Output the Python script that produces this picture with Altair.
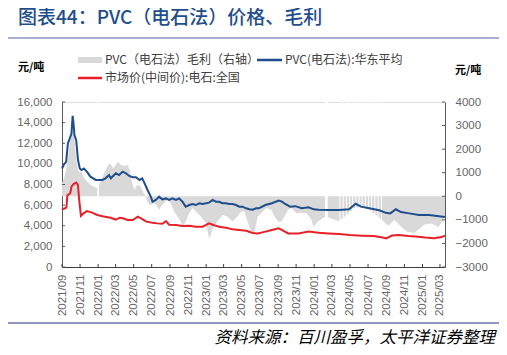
import altair as alt
import pandas as pd

W, H = 383, 165

# PVC (carbide) East China average price, yuan/t (left axis)
blue_dates = ["2021-09-01", "2021-09-08", "2021-09-15", "2021-09-21", "2021-09-27", "2021-10-03",
              "2021-10-07", "2021-10-10", "2021-10-13", "2021-10-19", "2021-10-25", "2021-10-31",
              "2021-11-06", "2021-11-14", "2021-11-24", "2021-12-06", "2021-12-24", "2022-01-15",
              "2022-01-26", "2022-02-07", "2022-02-13", "2022-02-24", "2022-03-02", "2022-03-13",
              "2022-03-25", "2022-04-05", "2022-04-16", "2022-04-28", "2022-05-09", "2022-05-21",
              "2022-05-30", "2022-06-06", "2022-06-17", "2022-06-28", "2022-07-04", "2022-07-15",
              "2022-07-26", "2022-08-06", "2022-08-18", "2022-08-29", "2022-09-09", "2022-09-21",
              "2022-10-02", "2022-10-13", "2022-10-24", "2022-11-05", "2022-11-16", "2022-11-27",
              "2022-12-09", "2022-12-20", "2023-01-11", "2023-01-23", "2023-02-03", "2023-02-14",
              "2023-02-25", "2023-03-09", "2023-03-20", "2023-03-31", "2023-04-12", "2023-04-23",
              "2023-05-04", "2023-05-16", "2023-05-27", "2023-06-07", "2023-06-19", "2023-06-28",
              "2023-07-20", "2023-08-11", "2023-09-03", "2023-09-14", "2023-09-25", "2023-10-12",
              "2023-10-29", "2023-11-20", "2023-12-13", "2023-12-30", "2024-01-16", "2024-02-19",
              "2024-03-25", "2024-04-28", "2024-05-20", "2024-06-07", "2024-07-05", "2024-08-08",
              "2024-08-30", "2024-09-14", "2024-10-03", "2024-10-20", "2024-11-17", "2024-12-20",
              "2025-01-23", "2025-02-26", "2025-03-18"]
blue_vals = [9550, 9950, 10200, 12000, 12450, 12950,
             14650, 13900, 12800, 12300, 10400, 9550,
             9400, 9550, 9250, 8760, 8440, 8440,
             8600, 8920, 8600, 8920, 9090, 8920,
             9250, 9090, 8830, 8700, 8700, 8440,
             8600, 8180, 7470, 6820, 6330, 6500,
             6820, 6560, 6650, 6500, 6650, 6500,
             6650, 6330, 5850, 6010, 6110, 6010,
             6180, 6110, 6240, 6500, 6330, 6330,
             6180, 6180, 6110, 6110, 6010, 5850,
             5850, 5690, 5600, 5560, 5690, 5690,
             6010, 6180, 6440, 6340, 6110, 5850,
             5900, 5690, 5790, 5590, 5560, 5530,
             5530, 5600, 6130, 5850, 5690, 5500,
             5250, 5200, 5600, 5330, 5200, 5040,
             5040, 4920, 4850]

# Calcium carbide national market price (mid), yuan/t (left axis)
red_dates = ["2021-09-01", "2021-09-12", "2021-09-16", "2021-09-19", "2021-09-29", "2021-10-03",
             "2021-10-10", "2021-10-19", "2021-10-25", "2021-10-29", "2021-11-04", "2021-11-13",
             "2021-11-24", "2021-12-12", "2021-12-29", "2022-01-20", "2022-02-12", "2022-03-02",
             "2022-03-15", "2022-03-25", "2022-04-11", "2022-04-28", "2022-05-15", "2022-05-26",
             "2022-06-13", "2022-07-04", "2022-07-20", "2022-08-06", "2022-08-18", "2022-08-29",
             "2022-09-21", "2022-10-13", "2022-11-05", "2022-11-27", "2022-12-20", "2023-01-11",
             "2023-01-28", "2023-02-14", "2023-03-09", "2023-03-31", "2023-04-23", "2023-05-16",
             "2023-06-07", "2023-06-25", "2023-07-20", "2023-08-11", "2023-09-03", "2023-09-18",
             "2023-10-05", "2023-11-09", "2023-12-13", "2024-01-16", "2024-02-19", "2024-03-25",
             "2024-05-01", "2024-06-08", "2024-07-20", "2024-08-15", "2024-08-31", "2024-09-20",
             "2024-10-13", "2024-11-15", "2024-12-18", "2025-01-10", "2025-02-10", "2025-03-06",
             "2025-03-18"]
red_vals = [5600, 5690, 5800, 6950, 7150, 7800,
            8050, 8180, 7950, 6500, 4950, 5200,
            5430, 5270, 5040, 4900, 4780, 4600,
            4780, 4720, 4560, 4560, 4880, 4720,
            4400, 4300, 4230, 4200, 4450, 4100,
            4070, 3980, 4000, 3910, 3910, 4240,
            4050, 3910, 3810, 3650, 3590, 3520,
            3300, 3260, 3430, 3590, 3750, 3520,
            3260, 3260, 3430, 3330, 3260, 3200,
            3100, 3040, 3000, 2880, 2780, 3050,
            3100, 3000, 2940, 2850, 2780, 2900,
            3050]

# PVC (carbide) gross margin, yuan/t (right axis)
margin_dates = ["2021-09-01", "2021-09-08", "2021-09-15", "2021-09-22", "2021-09-28", "2021-10-04",
                "2021-10-08", "2021-10-13", "2021-10-18", "2021-10-24", "2021-10-30", "2021-11-05",
                "2021-11-15", "2021-11-25", "2021-12-06", "2021-12-17", "2021-12-28", "2022-01-04",
                "2022-01-12", "2022-01-24", "2022-02-04", "2022-02-10", "2022-02-21", "2022-03-02",
                "2022-03-08", "2022-03-19", "2022-03-30", "2022-04-10", "2022-04-18", "2022-04-25",
                "2022-05-03", "2022-05-14", "2022-05-25", "2022-06-01", "2022-06-08", "2022-06-16",
                "2022-06-27", "2022-07-08", "2022-07-15", "2022-07-26", "2022-08-06", "2022-08-23",
                "2022-09-03", "2022-09-15", "2022-09-26", "2022-10-07", "2022-10-13", "2022-10-24",
                "2022-11-05", "2022-11-16", "2022-11-27", "2022-12-14", "2022-12-31", "2023-01-11",
                "2023-01-17", "2023-01-23", "2023-02-08", "2023-02-25", "2023-03-14", "2023-03-31",
                "2023-04-17", "2023-04-29", "2023-05-10", "2023-05-21", "2023-06-02", "2023-06-13",
                "2023-06-24", "2023-07-06", "2023-07-23", "2023-08-09", "2023-08-20", "2023-09-01",
                "2023-09-12", "2023-09-23", "2023-10-05", "2023-10-16", "2023-11-02", "2023-11-19",
                "2023-12-06", "2023-12-23", "2023-12-29", "2024-01-15", "2024-02-01", "2024-02-19",
                "2024-03-09", "2024-03-25", "2024-04-18", "2024-05-16", "2024-06-08", "2024-07-02",
                "2024-07-29", "2024-08-26", "2024-09-08", "2024-09-28", "2024-10-22", "2024-11-11",
                "2024-12-05", "2024-12-18", "2025-01-08", "2025-02-01", "2025-02-24", "2025-03-07",
                "2025-03-18"]
margin_vals = [550, 800, 1100, 1700, 2300, 2600,
               2800, 2500, 1700, 1150, 1000, 1050,
               770, 630, 490, 420, 350, 500,
               700, 1050, 1330, 1400, 1190, 1330,
               1470, 1330, 1290, 1330, 1120, 630,
               280, 490, 420, 200, 60, -220,
               -380, -290, -360, -570, -360, -150,
               -290, -650, -860, -1070, -1280, -1070,
               -720, -500, -650, -860, -1140, -1780,
               -1640, -1350, -1070, -790, -860, -1070,
               -860, -650, -650, -1070, -1500, -1570,
               -860, -720, -500, -570, -860, -1070,
               -1070, -860, -570, -500, -720, -700,
               -720, -1000, -1280, -1070, -900, -900,
               -1000, -1050, -800, -500, -450, -550,
               -800, -1100, -1250, -1000, -1300, -1500,
               -1560, -1420, -1200, -1150, -1300, -1100,
               -800]

# days with no margin data (white gaps in the grey area)
gap_dates = ["2021-12-31", "2022-01-02", "2024-02-08", "2024-02-10", "2024-02-12", "2024-02-14",
             "2024-03-28", "2024-04-08", "2024-04-19", "2024-04-30", "2024-05-10", "2024-05-21",
             "2024-06-01", "2024-06-11", "2024-06-22", "2024-07-03", "2024-07-13", "2024-07-24",
             "2024-08-04", "2024-08-15"]

left_ticks = [0, 2000, 4000, 6000, 8000, 10000, 12000, 14000, 16000]
right_ticks = [-3000, -2000, -1000, 0, 1000, 2000, 3000, 4000]
x_tick_dates = ["2021-09-01", "2021-11-01", "2022-01-01", "2022-03-01", "2022-05-01", "2022-07-01",
                "2022-09-01", "2022-11-01", "2023-01-01", "2023-03-01", "2023-05-01", "2023-07-01",
                "2023-09-01", "2023-11-01", "2024-01-01", "2024-03-01", "2024-05-01", "2024-07-01",
                "2024-09-01", "2024-11-01", "2025-01-01", "2025-03-01"]

title_text = "图表44：PVC（电石法）价格、毛利"
legend_labels = ["PVC（电石法）毛利（右轴）", "PVC(电石法):华东平均", "市场价(中间价):电石:全国"]
unit_text = "元/吨"
source_text = "资料来源：百川盈孚，太平洋证券整理"

BLUE = "#1F4E8C"
RED = "#E8202A"
GREY = "#D9D9D9"
AXIS = "#595959"
LBL = "#666666"
NUM_FONT = "Liberation Sans"
CJK = "Noto Sans CJK SC"

blue_df = pd.DataFrame({"date": pd.to_datetime(blue_dates), "pvc": blue_vals})
red_df = pd.DataFrame({"date": pd.to_datetime(red_dates), "carbide": red_vals})
margin_df = pd.DataFrame({"date": pd.to_datetime(margin_dates), "margin": margin_vals})
gap_df = pd.DataFrame({"date": pd.to_datetime(gap_dates)})
lt_df = pd.DataFrame({"lt": left_ticks})
rt_df = pd.DataFrame({"rt": right_ticks})
xt_df = pd.DataFrame({"date": pd.to_datetime(x_tick_dates)})
one = pd.DataFrame({"k": [0]})

x_scale = alt.Scale(domain=[alt.DateTime(year=2021, month=9, date=1),
                            alt.DateTime(year=2025, month=3, date=18)], nice=False)
x_axis = alt.Axis(tickCount=alt.TimeIntervalStep(interval="month", step=2),
                  format="%Y/%m", labelAngle=270, ticks=False, labelPadding=7, grid=False,
                  domainColor="#404040", labelColor=LBL, labelFont=NUM_FONT, labelFontSize=11.5,
                  title=None, labelOverlap=False, labelFlush=False)
X = alt.X("date:T", scale=x_scale, axis=x_axis)

left_scale = alt.Scale(domain=[0, 16000], nice=False, zero=False)
right_scale = alt.Scale(domain=[-3000, 4000], nice=False, zero=False)
left_axis = alt.Axis(orient="left", values=left_ticks, format=",.0f", ticks=False, labelPadding=10,
                     grid=False, domainColor=AXIS, labelColor=LBL, labelFont=NUM_FONT,
                     labelFontSize=11.5, title=None, labelOverlap=False, labelFlush=False)
right_axis = alt.Axis(orient="right", values=right_ticks, format=".0f", ticks=False,
                      labelPadding=10, grid=False, domainColor=AXIS, labelColor=LBL,
                      labelFont=NUM_FONT, labelFontSize=11.5, title=None, labelOverlap=False,
                      labelFlush=False)

area = alt.Chart(margin_df).mark_area(color=GREY, opacity=1).encode(
    x=X, y=alt.Y("margin:Q", scale=right_scale, axis=right_axis), y2=alt.datum(0))
gaps = alt.Chart(gap_df).mark_rule(color="white", strokeWidth=1).encode(
    x=X, y=alt.value(0), y2=alt.value(H - 1))
rticks = alt.Chart(rt_df).mark_rule(color=AXIS).encode(
    y=alt.Y("rt:Q", scale=right_scale, axis=None), x=alt.value(W - 3), x2=alt.value(W))
blue = alt.Chart(blue_df).mark_line(color=BLUE, strokeWidth=2).encode(
    x=X, y=alt.Y("pvc:Q", scale=left_scale, axis=left_axis))
red = alt.Chart(red_df).mark_line(color=RED, strokeWidth=2).encode(
    x=X, y=alt.Y("carbide:Q", scale=left_scale, axis=None))
lticks = alt.Chart(lt_df).mark_rule(color=AXIS).encode(
    y=alt.Y("lt:Q", scale=left_scale, axis=None), x=alt.value(0), x2=alt.value(3))
xticks = alt.Chart(xt_df).mark_rule(color="#404040").encode(
    x=X, y=alt.value(H - 3), y2=alt.value(H))


def txt(text, x, y, size, color="#404040", align="left", font=CJK, weight="normal", style="normal"):
    return alt.Chart(one).mark_text(align=align, baseline="middle", font=font, fontSize=size,
                                    color=color, fontWeight=weight, fontStyle=style).encode(
        x=alt.value(x), y=alt.value(y), text=alt.value(text))


def hline(x1, x2, y, color, width):
    return alt.Chart(one).mark_rule(color=color, strokeWidth=width).encode(
        x=alt.value(x1), x2=alt.value(x2), y=alt.value(y))


decos = [
    txt(title_text, -44, -84, 19, color=BLUE, weight=500),
    hline(-57, 440, -64, "#8E93C4", 1.5),
    alt.Chart(one).mark_rect(color=GREY).encode(
        x=alt.value(16), x2=alt.value(40), y=alt.value(-45), y2=alt.value(-39)),
    txt(legend_labels[0], 43, -42, 12),
    hline(195, 220, -42, BLUE, 2.5),
    txt(legend_labels[1], 223, -42, 12),
    hline(16, 40, -24, RED, 2.5),
    txt(legend_labels[2], 43, -24, 12),
    txt(unit_text, -44, -34, 11, color="#000000", weight="bold"),
    txt(unit_text, 393, -31, 11, color="#000000", weight="bold"),
    hline(-57, 440, 221, "#6E72AC", 1.5),
    txt(source_text, 433, 236, 16.5, color="#000000", align="right", style="italic"),
]

chart = alt.layer(area, gaps, rticks, blue, red, lticks, xticks, *decos).resolve_scale(
    y="independent").properties(
    width=W, height=H,
    padding={"left": 54, "top": 94, "right": 54, "bottom": 80},
    autosize=alt.AutoSizeParams(type="none"),
).configure_view(stroke=None).configure(background="white")

chart.save("out.html", embed_options={"renderer": "svg", "actions": False})
